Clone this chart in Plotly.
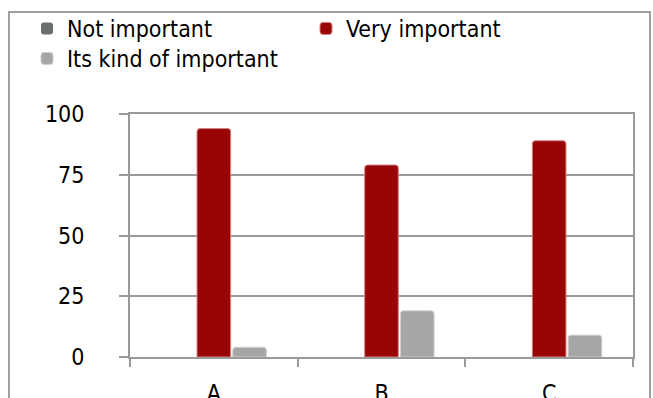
import plotly.graph_objects as go

categories = ["A", "B", "C"]
not_important = [0, 0, 0]
very_important = [94, 79, 89]
kind_of_important = [4, 19, 9]
y_ticks = [0, 25, 50, 75, 100]

W, H = 653, 398
L, R, T, B = 130, 20, 114, 41
pw, ph = W - L - R, H - T - B

def px_x(x):
    return (x - L) / pw

def px_y(y):
    return (H - B - y) / ph

FONT = "DejaVu Sans Condensed, DejaVu Sans, sans-serif"
GRID = "#9a9a9a"

fig = go.Figure()
fig.add_bar(name="Not important", x=categories, y=not_important,
            marker=dict(color="#6b706e", line=dict(width=0)))
fig.add_bar(name="Very important", x=categories, y=very_important,
            marker=dict(color="#990505", line=dict(color="#d08080", width=1)))
fig.add_bar(name="Its kind of important", x=categories, y=kind_of_important,
            legend="legend2",
            marker=dict(color="#a6a6a6", line=dict(color="#d0d0d0", width=1)))

legend_common = dict(orientation="h", xanchor="left", yanchor="top",
                     entrywidth=234, entrywidthmode="pixels",
                     font=dict(family=FONT, size=23, color="black"),
                     traceorder="normal", bgcolor="rgba(0,0,0,0)",
                     tracegroupgap=0, itemclick=False)

fig.update_layout(
    width=W, height=H,
    margin=dict(l=L, r=R, t=T, b=B, autoexpand=False),
    paper_bgcolor="white", plot_bgcolor="white",
    barmode="group", bargap=0.36, bargroupgap=0.06,
    barcornerradius=3,
    font=dict(family=FONT, size=22, color="black"),
    showlegend=True,
    legend=dict(x=px_x(27), y=px_y(7), **legend_common),
    legend2=dict(x=px_x(27), y=px_y(37), **legend_common),
    xaxis=dict(showgrid=False, showline=True, linecolor=GRID, linewidth=2,
               mirror=True, ticks="outside", tickson="boundaries",
               ticklen=8, tickwidth=2, tickcolor=GRID,
               ticklabelstandoff=14, automargin=False,
               tickfont=dict(family=FONT, size=23, color="black")),
    yaxis=dict(range=[0, 100], tickvals=y_ticks, showgrid=True,
               gridcolor=GRID, gridwidth=2, showline=True, linecolor=GRID,
               linewidth=2, mirror=True, ticks="outside", ticklen=9,
               tickwidth=2, tickcolor=GRID, zeroline=False,
               ticklabelstandoff=30, automargin=False,
               tickfont=dict(family=FONT, size=23, color="black")),
)

fig.add_shape(type="rect", xref="paper", yref="paper",
              x0=px_x(9), x1=px_x(650), y0=px_y(440), y1=px_y(12),
              line=dict(color="#a0a0a0", width=2), fillcolor="rgba(0,0,0,0)",
              layer="below")

fig.write_html("out.html")
